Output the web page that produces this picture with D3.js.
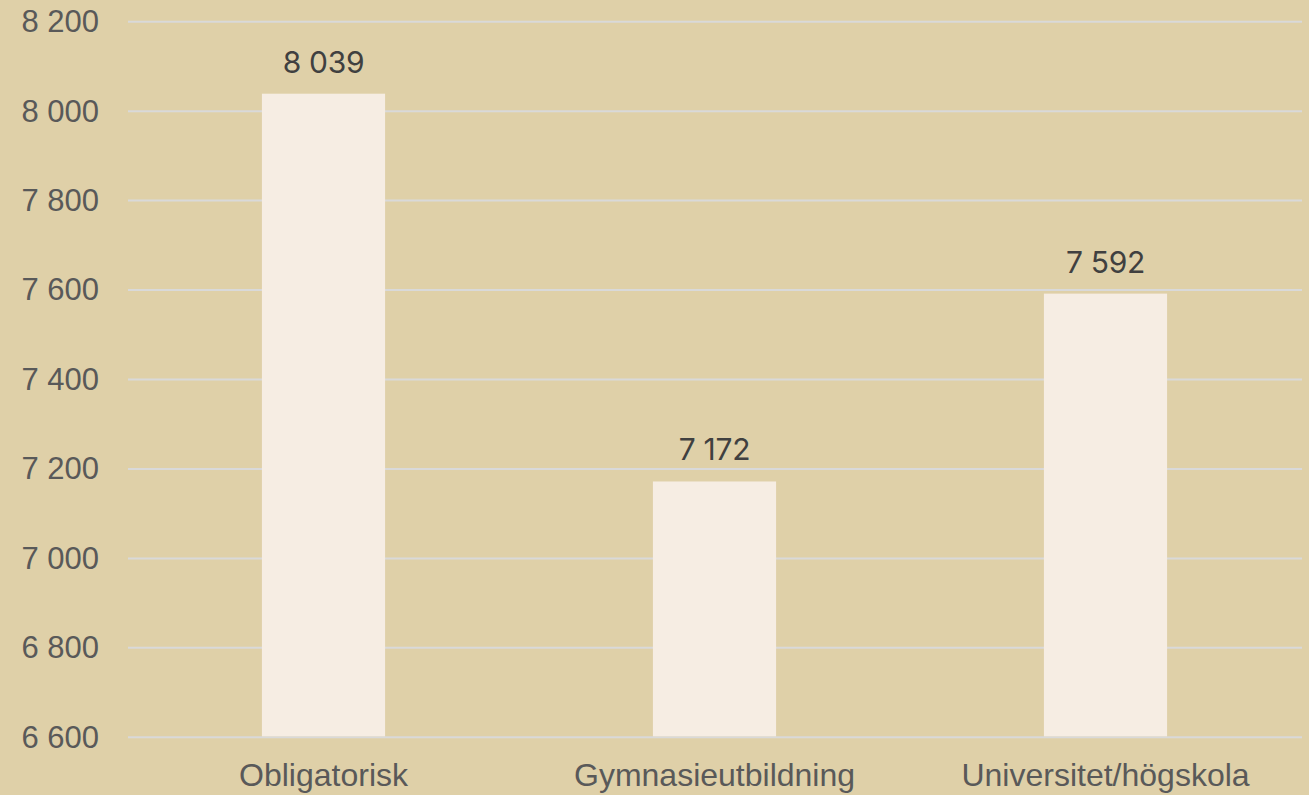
<!DOCTYPE html>
<html>
<head>
<meta charset="utf-8">
<script src="https://cdn.jsdelivr.net/npm/d3@7"></script>
<style>
  body { margin: 0; background: #dfd0a8; }
  svg { display: block; }
  .tick text { font-family: "Liberation Sans", Arial, sans-serif; fill: #595959; }
</style>
</head>
<body>
<svg class="chart"></svg>
<script>
// Data
var categories = ["Obligatorisk", "Gymnasieutbildning", "Universitet/högskola"];
var values = [8039, 7172, 7592];
var yTicks = [6600, 6800, 7000, 7200, 7400, 7600, 7800, 8000, 8200];

var width = 1309, height = 795;
var margin = { top: 22, right: 8, bottom: 58, left: 128 };

var locale = d3.formatLocale({ decimal: ",", thousands: " ", grouping: [3], currency: ["", " kr"] });
var fmt = locale.format(",d");

var chart = d3.select(".chart")
    .attr("width", width)
    .attr("height", height);

// Scales
var x = d3.scaleBand()
    .domain(categories)
    .range([margin.left, width - margin.right])
    .paddingInner(0.685)
    .paddingOuter(0.3425);
var y = d3.scaleLinear()
    .domain([6600, 8200])
    .range([height - margin.bottom + 0.3, margin.top - 0.3]);

// Gridlines
chart.append("g")
    .selectAll("line")
    .data(yTicks)
  .enter().append("line")
    .attr("x1", margin.left)
    .attr("x2", width - 7)
    .attr("y1", function(d) { return y(d); })
    .attr("y2", function(d) { return y(d); })
    .attr("stroke", "#d9d9d9")
    .attr("stroke-width", 2);

// Y-Axis labels
var yAxis = d3.axisLeft(y)
    .tickValues(yTicks)
    .tickSize(0)
    .tickPadding(29)
    .tickFormat(fmt);
chart.append("g")
    .attr("transform", "translate(" + margin.left + ",0)")
    .call(yAxis)
    .call(function(g) { g.select(".domain").remove(); })
    .selectAll("text")
    .style("font-size", "31px");

// Bars
chart.selectAll(".bar")
    .data(values)
  .enter().append("rect")
    .attr("class", "bar")
    .attr("x", function(d, i) { return x(categories[i]); })
    .attr("y", function(d) { return y(d); })
    .attr("width", x.bandwidth())
    .attr("height", function(d) { return y(6600) - y(d) - 1; })
    .attr("fill", "#f6ede3");

// Value labels
chart.selectAll(".label")
    .data(values)
  .enter().append("text")
    .attr("class", "label")
    .attr("x", function(d, i) { return x(categories[i]) + x.bandwidth() / 2; })
    .attr("y", function(d) { return y(d) - 21; })
    .attr("text-anchor", "middle")
    .style("font-family", "Inter, 'Liberation Sans', sans-serif")
    .style("font-size", "30px")
    .style("letter-spacing", "-0.3px")
    .attr("fill", "#404040")
    .text(function(d) { return fmt(d); });

// X-Axis labels
var xAxis = d3.axisBottom(x)
    .tickSize(0)
    .tickPadding(0);
chart.append("g")
    .attr("transform", "translate(0," + (height - margin.bottom) + ")")
    .call(xAxis)
    .call(function(g) { g.select(".domain").remove(); })
    .selectAll("text")
    .attr("dy", 0)
    .attr("y", 49)
    .style("font-size", "32px");
</script>
</body>
</html>
